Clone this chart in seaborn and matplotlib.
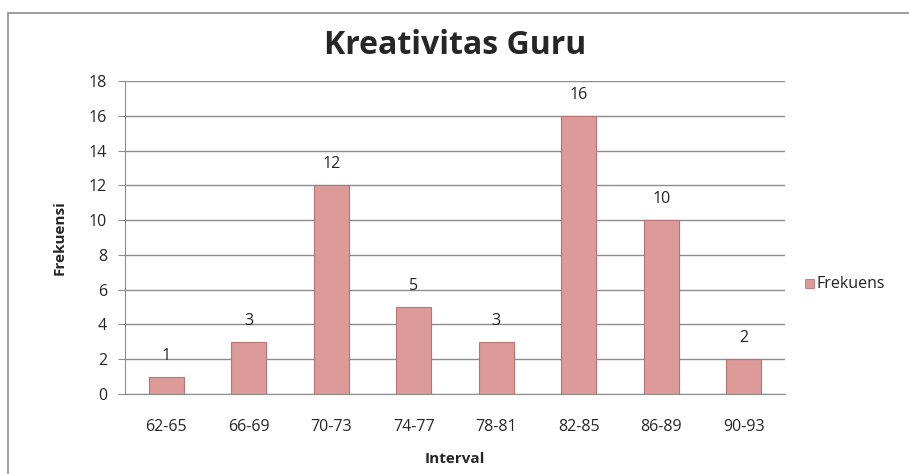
import matplotlib
matplotlib.use("Agg")
import matplotlib.pyplot as plt
import seaborn as sns
import pandas as pd
from matplotlib.patches import Rectangle

categories = ["62-65", "66-69", "70-73", "74-77", "78-81", "82-85", "86-89", "90-93"]
values = [1, 3, 12, 5, 3, 16, 10, 2]
yticks = [0, 2, 4, 6, 8, 10, 12, 14, 16, 18]

sns.set_style("white")
plt.rcParams['font.family'] = ['Open Sans', 'DejaVu Sans']

df = pd.DataFrame({"Interval": categories, "Frekuensi": values})

fig = plt.figure(figsize=(9.09, 4.74), dpi=100)
ax = fig.add_axes([125/909, 1-394/474, 660/909, (394-81)/474])

bar_color = "#DC9A98"
sns.barplot(data=df, x="Interval", y="Frekuensi", color=bar_color, width=0.42,
            saturation=1, ax=ax, edgecolor="#B87573", linewidth=0.8, zorder=3)

for i, v in enumerate(values):
    ax.text(i, v + 0.75, str(v), ha="center", va="bottom", fontsize=11.5, color="#222222")

ax.set_ylim(0, 18)
ax.set_yticks(yticks)
ax.set_xlim(-0.5, len(categories) - 0.5)
ax.yaxis.grid(True, color="#8c8c8c", linewidth=1.0, zorder=0)
ax.set_axisbelow(True)
for s in ["top", "right"]:
    ax.spines[s].set_visible(False)
ax.spines["left"].set_color("#8c8c8c")
ax.spines["bottom"].set_color("#8c8c8c")
ax.tick_params(axis="y", length=5, color="#8c8c8c", labelsize=11.5, pad=8, left=True)
ax.tick_params(axis="x", length=0, labelsize=11.5, pad=18)
ax.set_ylabel("Frekuensi", fontsize=11, fontweight="bold", labelpad=16)
ax.set_xlabel("Interval", fontsize=11, fontweight="bold", labelpad=12)

fig.text(0.5 * (125 + 785) / 909, 1 - 45/474, "Kreativitas Guru", ha="center", va="center",
         fontsize=23, fontweight="bold")

# legend
fig.patches.append(Rectangle((805/909, 1 - 288/474), 9/909, 9/474, transform=fig.transFigure,
                             facecolor=bar_color, edgecolor="#B87573", linewidth=0.6))
fig.text(817/909, 1 - 284/474, "Frekuens", ha="left", va="center", fontsize=11.5, color="#222222")

# outer border
fig.patches.append(Rectangle((8/909, -0.05), 1.1, (474 - 13)/474 + 0.05, transform=fig.transFigure,
                             fill=False, edgecolor="#8c8c8c", linewidth=1.2))

fig.savefig("out.png", dpi=100)
